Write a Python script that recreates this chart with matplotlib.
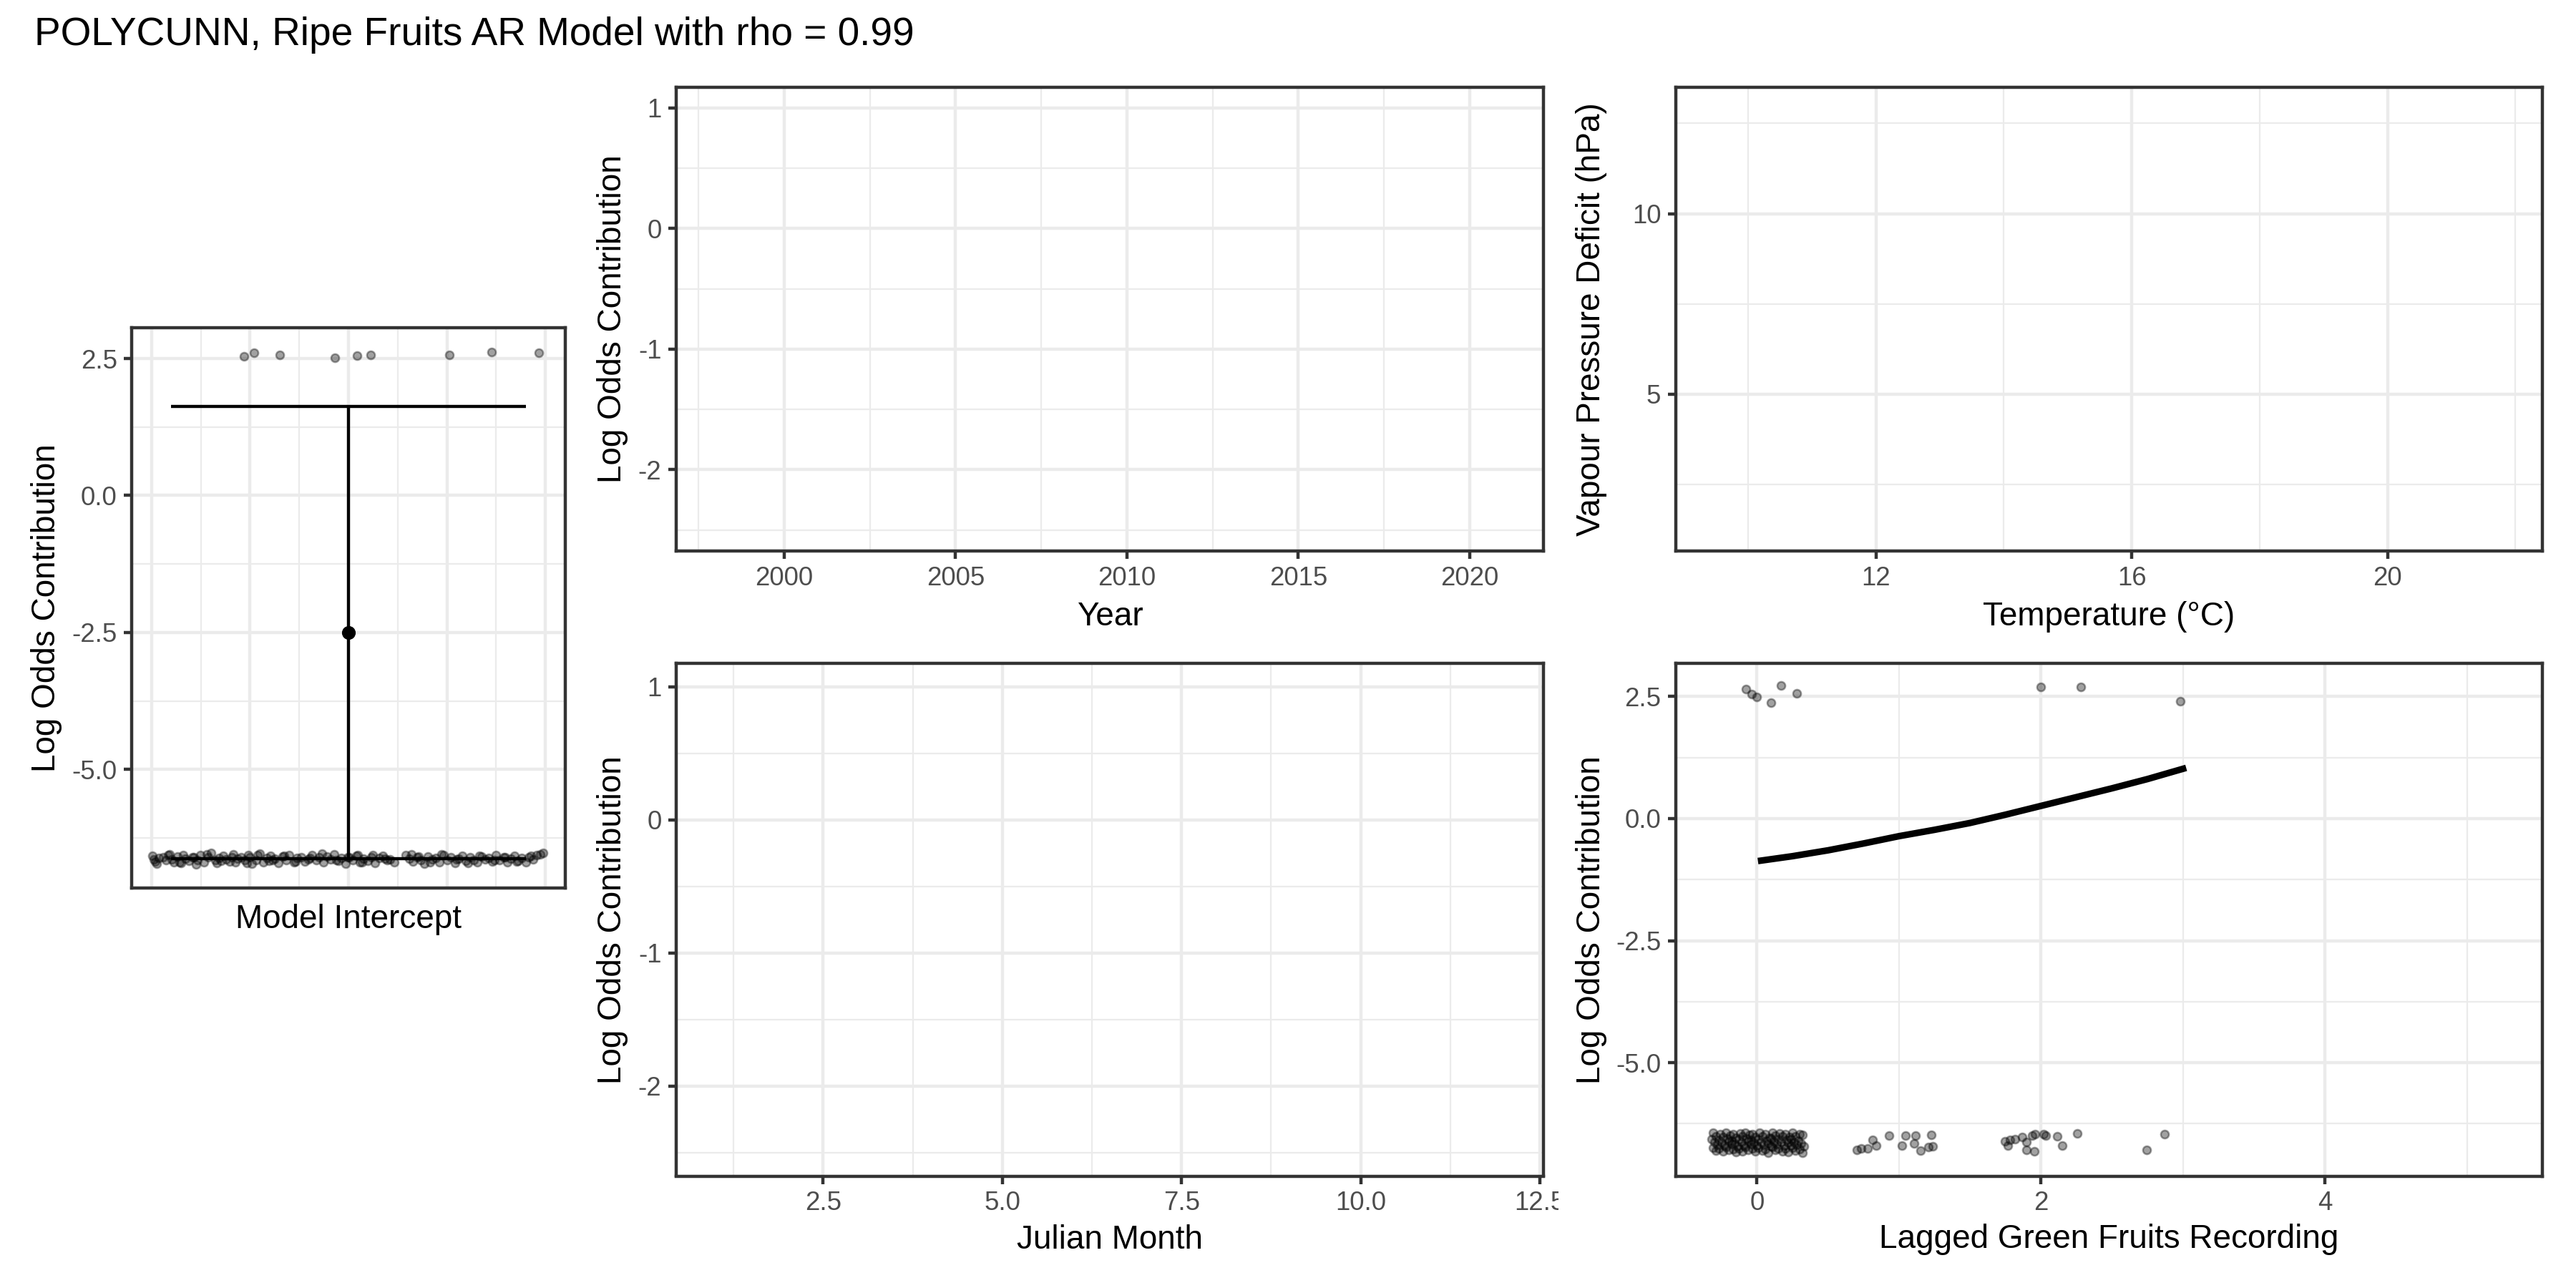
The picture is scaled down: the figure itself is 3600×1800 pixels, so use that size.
import matplotlib
matplotlib.use('Agg')
import matplotlib.pyplot as plt
from matplotlib.patches import Rectangle

plt.rcParams['font.family'] = ['Liberation Sans', 'DejaVu Sans']
plt.rcParams['axes.unicode_minus'] = False

title = 'POLYCUNN, Ripe Fruits AR Model with rho = 0.99'

# model intercept panel
intercept_est = -2.5
intercept_lo = -6.63
intercept_hi = 1.62
intercept_hi_x = [0.788, 0.808, 0.860, 0.972, 1.017, 1.045, 1.205, 1.290, 1.386]
intercept_hi_y = [2.54, 2.61, 2.57, 2.51, 2.55, 2.56, 2.56, 2.62, 2.60]
intercept_lo_x = [
    0.602, 0.608, 0.615, 0.611, 0.624, 0.630, 0.637, 0.645, 0.641, 0.652,
    0.660, 0.668, 0.664, 0.676, 0.683, 0.690, 0.699, 0.694, 0.707, 0.715,
    0.721, 0.729, 0.737, 0.733, 0.745, 0.752, 0.759, 0.766, 0.774, 0.770,
    0.782, 0.789, 0.797, 0.804, 0.800, 0.812, 0.820, 0.827, 0.834, 0.842,
    0.838, 0.850, 0.858, 0.866, 0.873, 0.880, 0.889, 0.896, 0.904, 0.911,
    0.918, 0.926, 0.934, 0.941, 0.949, 0.957, 0.963, 0.971, 0.979, 0.986,
    0.994, 1.001, 1.008, 1.016, 1.023, 1.019, 1.031, 1.039, 1.046, 1.054,
    1.062, 1.070, 1.078, 1.085, 1.093, 1.116, 1.124, 1.131, 1.128, 1.139,
    1.147, 1.154, 1.162, 1.170, 1.177, 1.185, 1.193, 1.201, 1.208, 1.216,
    1.224, 1.231, 1.239, 1.247, 1.254, 1.262, 1.270, 1.277, 1.285, 1.292,
    1.300, 1.307, 1.315, 1.322, 1.330, 1.337, 1.345, 1.352, 1.360, 1.367,
    1.375, 1.382, 1.389, 1.396,
    0.605, 0.634, 0.657, 0.686, 0.712, 0.741, 0.763, 0.793, 0.816, 0.846,
    0.869, 0.893, 0.921, 0.946, 0.975, 0.998, 1.027, 1.050, 1.074, 1.142,
    1.166, 1.189, 1.219, 1.243, 1.266, 1.296, 1.319, 1.341, 1.371]
intercept_lo_y = [
    -6.58, -6.68, -6.62, -6.72, -6.60, -6.66, -6.55, -6.70, -6.64, -6.59,
    -6.71, -6.63, -6.57, -6.67, -6.61, -6.74, -6.56, -6.65, -6.69, -6.60,
    -6.53, -6.66, -6.62, -6.71, -6.58, -6.64, -6.68, -6.55, -6.63, -6.70,
    -6.60, -6.66, -6.57, -6.72, -6.61, -6.65, -6.54, -6.69, -6.62, -6.58,
    -6.67, -6.63, -6.71, -6.59, -6.65, -6.56, -6.70, -6.62, -6.60, -6.68,
    -6.64, -6.57, -6.66, -6.61, -6.70, -6.59, -6.64, -6.55, -6.67, -6.62,
    -6.72, -6.60, -6.65, -6.58, -6.69, -6.56, -6.63, -6.67, -6.60, -6.71,
    -6.62, -6.58, -6.66, -6.64, -6.70, -6.57, -6.63, -6.68, -6.55, -6.61,
    -6.66, -6.72, -6.59, -6.64, -6.62, -6.69, -6.57, -6.65, -6.60, -6.71,
    -6.63, -6.58, -6.67, -6.61, -6.66, -6.70, -6.59, -6.64, -6.62, -6.68,
    -6.56, -6.65, -6.61, -6.69, -6.63, -6.58, -6.67, -6.62, -6.70, -6.60,
    -6.64, -6.57, -6.55, -6.52,
    -6.64, -6.57, -6.69, -6.61, -6.55, -6.67, -6.60, -6.71, -6.56, -6.65,
    -6.58, -6.68, -6.62, -6.54, -6.66, -6.60, -6.70, -6.57, -6.63, -6.59,
    -6.69, -6.55, -6.64, -6.71, -6.58, -6.66, -6.61, -6.68, -6.58]

# lagged green fruits panel
green_hi_x = [-0.075, -0.037, 0.0, 0.10, 0.17, 0.28, 2.0, 2.28, 2.98]
green_hi_y = [2.65, 2.55, 2.49, 2.38, 2.72, 2.56, 2.70, 2.69, 2.41]
green_lo_x = [
    -0.31, -0.26, -0.22, -0.17, -0.12, -0.08, -0.03, 0.02, 0.06, 0.11, 0.16, 0.20, 0.25, 0.30,
    -0.29, -0.24, -0.19, -0.15, -0.10, -0.05, -0.01, 0.04, 0.09, 0.13, 0.18, 0.23, 0.27, 0.32,
    -0.32, -0.27, -0.21, -0.18, -0.13, -0.07, -0.04, 0.01, 0.07, 0.10, 0.15, 0.21, 0.24, 0.29,
    -0.30, -0.25, -0.20, -0.16, -0.11, -0.06, -0.02, 0.03, 0.08, 0.12, 0.17, 0.22, 0.26, 0.31,
    -0.28, -0.23, -0.18, -0.14, -0.09, -0.04, 0.00, 0.05, 0.10, 0.14, 0.19, 0.24, 0.28, 0.33,
    -0.31, -0.27, -0.22, -0.17, -0.13, -0.08, -0.03, 0.01, 0.06, 0.11, 0.15, 0.20, 0.25, 0.30,
    -0.29, -0.24, -0.20, -0.15, -0.10, -0.06, -0.01, 0.04, 0.08, 0.13, 0.18, 0.22, 0.27, 0.32,
    0.704, 0.736, 0.779, 0.816, 0.839, 0.928, 1.021, 1.044, 1.105, 1.119, 1.152, 1.208, 1.226, 1.240,
    1.748, 1.767, 1.781, 1.818, 1.865, 1.898, 1.898, 1.940, 1.954, 1.958, 2.019, 2.033, 2.112, 2.149,
    2.257, 2.746, 2.868]
green_lo_y = [
    -6.44, -6.46, -6.43, -6.47, -6.45, -6.43, -6.46, -6.44, -6.47, -6.43, -6.45, -6.46, -6.44, -6.47,
    -6.50, -6.52, -6.49, -6.53, -6.51, -6.48, -6.52, -6.50, -6.53, -6.49, -6.51, -6.52, -6.50, -6.48,
    -6.56, -6.58, -6.55, -6.59, -6.57, -6.55, -6.58, -6.56, -6.59, -6.55, -6.57, -6.58, -6.56, -6.59,
    -6.62, -6.64, -6.61, -6.65, -6.63, -6.61, -6.64, -6.62, -6.65, -6.61, -6.63, -6.64, -6.62, -6.65,
    -6.68, -6.70, -6.67, -6.71, -6.69, -6.67, -6.70, -6.68, -6.71, -6.67, -6.69, -6.70, -6.68, -6.71,
    -6.74, -6.76, -6.73, -6.77, -6.75, -6.73, -6.76, -6.74, -6.77, -6.73, -6.75, -6.76, -6.74, -6.77,
    -6.80, -6.82, -6.79, -6.83, -6.81, -6.79, -6.82, -6.80, -6.84, -6.79, -6.81, -6.83, -6.80, -6.84,
    -6.79, -6.75, -6.75, -6.58, -6.70, -6.49, -6.70, -6.49, -6.65, -6.49, -6.80, -6.73, -6.48, -6.71,
    -6.61, -6.70, -6.58, -6.56, -6.52, -6.62, -6.78, -6.49, -6.82, -6.46, -6.47, -6.49, -6.51, -6.70,
    -6.45, -6.79, -6.46]
green_curve_x = [0.03, 0.25, 0.5, 0.75, 1.0, 1.25, 1.5, 1.75, 2.0, 2.25, 2.5, 2.75, 3.0]
green_curve_y = [-0.86, -0.77, -0.65, -0.51, -0.36, -0.23, -0.09, 0.08, 0.26, 0.44, 0.62, 0.81, 1.02]

W, H = 3600.0, 1800.0
GRID = '#EBEBEB'
DARK = '#333333'
PT_SIZE = 2.7 ** 2


def box(x0, y0, x1, y1):
    # pixel box (top-left origin) -> figure rect
    return [x0 / W, 1 - y1 / H, (x1 - x0) / W, (y1 - y0) / H]


def style(ax, xlim, ylim, xmaj, xmin, ymaj, ymin, xlab, ylab):
    ax.set_xlim(xlim)
    ax.set_ylim(ylim)
    ax.set_xticks(xmaj)
    ax.set_xticks(xmin, minor=True)
    ax.set_yticks(ymaj)
    ax.set_yticks(ymin, minor=True)
    if xlab is not None:
        ax.set_xticklabels(xlab)
    ax.set_yticklabels(ylab)
    ax.grid(which='major', color=GRID, linewidth=1.07)
    ax.grid(which='minor', color=GRID, linewidth=0.53)
    ax.set_axisbelow(True)
    for s in ax.spines.values():
        s.set_color(DARK)
        s.set_linewidth(1.07)
    ax.tick_params(which='major', length=2.75, width=1.07, color=DARK,
                   labelsize=8.8, labelcolor='#4D4D4D', pad=2.2)
    ax.tick_params(which='minor', length=0)


def dots(ax, x, y):
    ax.scatter(x, y, s=PT_SIZE, c='black', alpha=0.37,
               edgecolors='black', linewidths=0.6, zorder=2)


def main():
    fig = plt.figure(figsize=(12, 6), dpi=300)

    fig.text(48 / W, 1 - 63 / H, title, fontsize=13.2, va='baseline', ha='left')

    # intercept
    ax1 = fig.add_axes(box(184.3, 458.2, 789.7, 1240.6))
    style(ax1, (0.56, 1.44), (-7.16, 3.06),
          [0.6, 0.8, 1.0, 1.2, 1.4], [0.7, 0.9, 1.1, 1.3],
          [-5, -2.5, 0, 2.5], [-6.25, -3.75, -1.25, 1.25],
          None, ['-5.0', '-2.5', '0.0', '2.5'])
    ax1.tick_params(axis='x', which='both', length=0, labelbottom=False)
    dots(ax1, intercept_lo_x, intercept_lo_y)
    dots(ax1, intercept_hi_x, intercept_hi_y)
    ax1.vlines(1.0, intercept_lo, intercept_hi, color='black', linewidth=1.05, zorder=3)
    ax1.hlines([intercept_lo, intercept_hi], 0.64, 1.36, color='black', linewidth=1.05, zorder=3)
    ax1.plot([1.0], [intercept_est], 'o', color='black', markersize=3.6, zorder=4)

    # year
    ax2 = fig.add_axes(box(945, 121.5, 2157, 770))
    style(ax2, (1996.85, 2022.15), (-2.675, 1.175),
          [2000, 2005, 2010, 2015, 2020], [1997.5, 2002.5, 2007.5, 2012.5, 2017.5],
          [-2, -1, 0, 1], [-2.5, -1.5, -0.5, 0.5],
          ['2000', '2005', '2010', '2015', '2020'], ['-2', '-1', '0', '1'])

    # temperature / vpd
    ax3 = fig.add_axes(box(2342, 121.5, 3553, 770))
    style(ax3, (8.87, 22.42), (0.66, 13.51),
          [12, 16, 20], [10, 14, 18, 22],
          [5, 10], [2.5, 7.5, 12.5],
          ['12', '16', '20'], ['5', '10'])

    # julian month
    ax4 = fig.add_axes(box(945, 927, 2157, 1643.5))
    style(ax4, (0.45, 12.55), (-2.675, 1.175),
          [2.5, 5.0, 7.5, 10.0, 12.5], [1.25, 3.75, 6.25, 8.75, 11.25],
          [-2, -1, 0, 1], [-2.5, -1.5, -0.5, 0.5],
          ['2.5', '5.0', '7.5', '10.0', '12.5'], ['-2', '-1', '0', '1'])

    # lagged green fruits
    ax5 = fig.add_axes(box(2342, 927, 3553, 1643.5))
    style(ax5, (-0.571, 5.53), (-7.32, 3.18),
          [0, 2, 4], [1, 3, 5],
          [-5, -2.5, 0, 2.5], [-6.25, -3.75, -1.25, 1.25],
          ['0', '2', '4'], ['-5.0', '-2.5', '0.0', '2.5'])
    dots(ax5, green_lo_x, green_lo_y)
    dots(ax5, green_hi_x, green_hi_y)
    ax5.plot(green_curve_x, green_curve_y, color='black', linewidth=2.2, zorder=3)

    # axis titles
    fig.text(65 / W, 1 - 849.4 / H, 'Log Odds Contribution', rotation=90,
             fontsize=11, ha='center', va='center')
    fig.text(487 / W, 1 - 1297 / H, 'Model Intercept', fontsize=11, ha='center', va='baseline')
    fig.text(856.5 / W, 1 - 445.75 / H, 'Log Odds Contribution', rotation=90,
             fontsize=11, ha='center', va='center')
    fig.text(1551 / W, 1 - 873.7 / H, 'Year', fontsize=11, ha='center', va='baseline')
    fig.text(2224.5 / W, 1 - 445.75 / H, 'Vapour Pressure Deficit (hPa)', rotation=90,
             fontsize=11, ha='center', va='center')
    fig.text(2947.5 / W, 1 - 873.7 / H, 'Temperature (°C)', fontsize=11, ha='center', va='baseline')
    fig.text(856.5 / W, 1 - 1285.25 / H, 'Log Odds Contribution', rotation=90,
             fontsize=11, ha='center', va='center')
    fig.text(1551 / W, 1 - 1745 / H, 'Julian Month', fontsize=11, ha='center', va='baseline')
    fig.text(2224.5 / W, 1 - 1285.25 / H, 'Log Odds Contribution', rotation=90,
             fontsize=11, ha='center', va='center')
    fig.text(2947.5 / W, 1 - 1744 / H, 'Lagged Green Fruits Recording', fontsize=11,
             ha='center', va='baseline')

    # the 12.5 tick label is cut off at the cell edge in the original
    fig.patches.append(Rectangle((2178 / W, 1 - 1700 / H), 30 / W, 50 / H,
                                 transform=fig.transFigure, facecolor='white',
                                 edgecolor='none', zorder=10))

    fig.savefig('out.png', dpi=300)


if __name__ == "__main__":
    main()
